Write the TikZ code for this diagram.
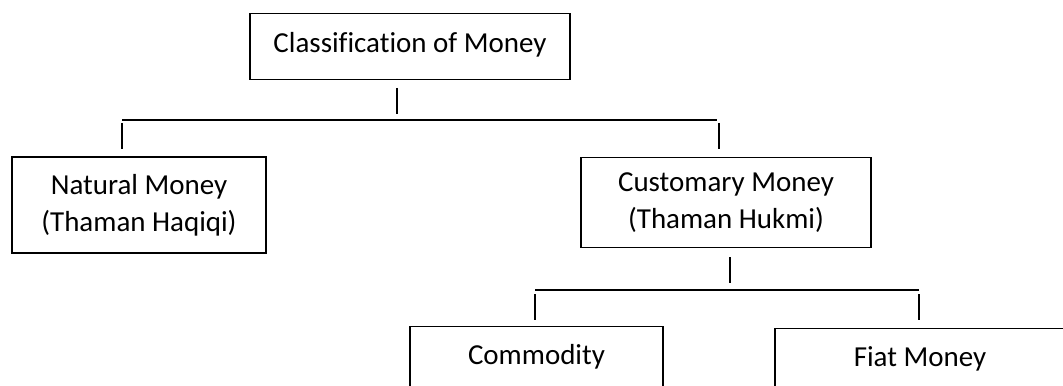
\documentclass[tikz,border=0pt]{standalone}
\usepackage{fontspec}
\setmainfont{Carlito}[Ligatures=NoCommon]
\usepackage{tikz}
\usetikzlibrary{calc}

\tikzset{
    box/.style={draw=black, line width=0.8pt, align=center,
        font=\fontsize{20.6pt}{26.3pt}\selectfont},
    topbox/.style={box, anchor=north, inner ysep=0pt, text height=0.975cm},
    link/.style={draw=black, line width=0.8pt}
}

\begin{document}
\begin{tikzpicture}[x=0.025cm, y=-0.025cm]
    \useasboundingbox (0,0) rectangle (1063,386);
    \clip (0,0) rectangle (1063,386);

    \node[topbox, minimum width=8cm, text depth=0.675cm] (root) at (410,13) {Classification of Money};
    \node[box, minimum width=6.35cm, minimum height=2.4cm] (natural) at (139,205) {Natural Money\\(Thaman Haqiqi)};
    \node[box, minimum width=7.25cm, minimum height=2.25cm] (customary) at (726,202.5) {Customary Money\\(Thaman Hukmi)};
    \node[topbox, minimum width=6.325cm, text height=0.95cm, text depth=2cm] (commodity) at (536.5,326) {Commodity};
    \node[topbox, minimum width=7.25cm, text height=0.95cm, text depth=2cm] (fiat) at (920,328) {Fiat Money};

    \coordinate (A1) at (397,88);
    \coordinate (A2) at (397,114);
    \coordinate (B1) at (122,120);
    \coordinate (B2) at (717,120);
    \coordinate (C1) at (122,123);
    \coordinate (C2) at (122,149);
    \coordinate (D1) at (719,123);
    \coordinate (D2) at (719,149);

    \coordinate (E1) at (730,257);
    \coordinate (E2) at (730,283);
    \coordinate (F1) at (535,290);
    \coordinate (F2) at (919,290);
    \coordinate (G1) at (535,294);
    \coordinate (G2) at (535,320);
    \coordinate (H1) at (919,294);
    \coordinate (H2) at (919,320);

    \draw[link] (A1) -- (A2);
    \draw[link] (B1) -- (B2);
    \draw[link] (C1) -- (C2);
    \draw[link] (D1) -- (D2);

    \draw[link] (E1) -- (E2);
    \draw[link] (F1) -- (F2);
    \draw[link] (G1) -- (G2);
    \draw[link] (H1) -- (H2);
\end{tikzpicture}
\end{document}
